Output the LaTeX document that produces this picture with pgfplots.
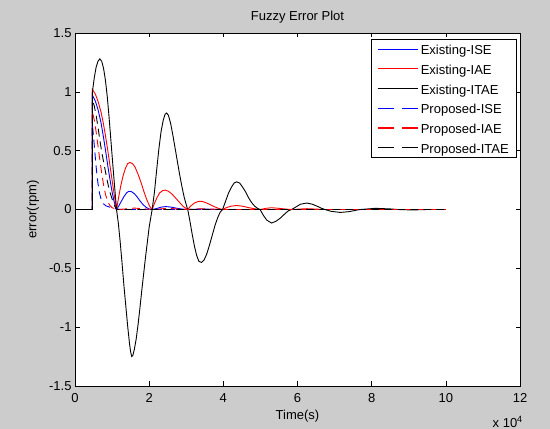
\documentclass[border=0pt]{standalone}
\usepackage{graphicx}
\usepackage{pgfplots}
\pgfplotsset{compat=1.18}
\usepackage{pgfplotstable}
\usepackage{fontspec}
\setmainfont{Liberation Sans}

\definecolor{figbg}{RGB}{204,204,204}
\definecolor{mblue}{RGB}{0,0,255}
\definecolor{mred}{RGB}{255,0,0}

\pgfplotsset{
  solidleg/.style={legend image code/.code={\draw[##1,#1,line width=1.2bp] (0bp,0bp) -- (40bp,0bp);}},
  dashleg/.style={legend image code/.code={\draw[##1,#1,solid,line width=1.2bp] (0bp,0bp) -- (16bp,0bp) (24bp,0bp) -- (40bp,0bp);}},
}

% time in units of 1e4 s, error in rpm
\pgfplotstableread{
t e
0 0
0.47 0
0.47 0.97
0.55 0.92
0.62 0.85
0.70 0.74
0.76 0.63
0.82 0.51
0.88 0.38
0.94 0.26
1.00 0.15
1.06 0.06
1.12 0
1.18 0.03
1.25 0.07
1.32 0.11
1.40 0.145
1.46 0.155
1.52 0.152
1.60 0.135
1.68 0.105
1.76 0.07
1.84 0.04
1.92 0.018
2.00 0.005
2.08 0
2.20 0.008
2.32 0.02
2.45 0.025
2.60 0.02
2.75 0.01
2.90 0.003
3.04 0
3.40 0.004
3.98 0
10 0
}\exISE

\pgfplotstableread{
t e
0 0
0.47 0
0.47 1.02
0.55 0.98
0.62 0.92
0.70 0.83
0.76 0.74
0.82 0.63
0.88 0.51
0.94 0.38
1.00 0.25
1.06 0.12
1.12 0
1.18 0.11
1.24 0.21
1.30 0.29
1.36 0.35
1.42 0.39
1.48 0.40
1.55 0.39
1.62 0.36
1.70 0.30
1.78 0.23
1.86 0.15
1.94 0.08
2.01 0.03
2.08 0
2.14 0.05
2.21 0.10
2.28 0.14
2.36 0.16
2.43 0.165
2.52 0.155
2.62 0.13
2.72 0.095
2.82 0.06
2.92 0.025
3.04 0
3.12 0.03
3.22 0.055
3.32 0.068
3.40 0.07
3.50 0.062
3.62 0.045
3.75 0.025
3.88 0.008
3.98 0
4.08 0.015
4.20 0.028
4.36 0.034
4.52 0.028
4.68 0.016
4.85 0.006
4.99 0
5.15 0.01
5.30 0.015
5.50 0.01
5.70 0.003
5.84 0
6.25 0.007
6.74 0
10 0
}\exIAE

\pgfplotstableread{
t e
0 0
0.47 0
0.47 1.00
0.52 1.12
0.57 1.21
0.62 1.26
0.67 1.28
0.72 1.26
0.77 1.20
0.82 1.10
0.87 0.96
0.92 0.78
0.97 0.58
1.02 0.38
1.07 0.19
1.12 0
1.17 -0.12
1.22 -0.28
1.27 -0.46
1.32 -0.65
1.37 -0.82
1.42 -0.99
1.47 -1.14
1.50 -1.21
1.53 -1.25
1.56 -1.24
1.60 -1.19
1.65 -1.10
1.70 -0.98
1.75 -0.84
1.80 -0.69
1.85 -0.55
1.90 -0.41
1.95 -0.28
2.00 -0.15
2.08 0
2.14 0.14
2.20 0.33
2.26 0.51
2.32 0.66
2.38 0.76
2.43 0.81
2.47 0.82
2.52 0.80
2.58 0.73
2.64 0.63
2.70 0.52
2.76 0.41
2.82 0.30
2.88 0.20
2.94 0.11
3.00 0.04
3.04 0
3.10 -0.10
3.16 -0.21
3.22 -0.31
3.28 -0.39
3.34 -0.44
3.41 -0.45
3.48 -0.43
3.55 -0.38
3.62 -0.31
3.70 -0.22
3.78 -0.13
3.86 -0.06
3.92 -0.02
3.98 0
4.06 0.07
4.14 0.14
4.22 0.19
4.29 0.225
4.36 0.235
4.44 0.225
4.52 0.19
4.60 0.15
4.68 0.10
4.76 0.06
4.84 0.03
4.92 0.01
4.99 0
5.08 -0.05
5.17 -0.09
5.30 -0.115
5.42 -0.10
5.55 -0.07
5.68 -0.03
5.76 -0.01
5.84 0
5.95 0.02
6.08 0.045
6.25 0.055
6.40 0.045
6.55 0.025
6.65 0.01
6.74 0
6.90 -0.015
7.15 -0.025
7.40 -0.018
7.60 -0.005
7.70 0
8.10 0.01
8.50 0.005
8.70 0
9.10 -0.004
9.50 0
10 0
}\exITAE

\pgfplotstableread{
t e
0 0
0.47 0
0.47 0.72
0.50 0.62
0.54 0.47
0.58 0.33
0.62 0.22
0.66 0.14
0.70 0.09
0.76 0.05
0.84 0.03
0.94 0.02
1.04 0.01
1.15 0.003
1.30 0
10 0
}\prISE

\pgfplotstableread{
t e
0 0
0.47 0
0.47 0.83
0.52 0.76
0.57 0.66
0.62 0.54
0.67 0.42
0.72 0.31
0.77 0.21
0.82 0.13
0.88 0.07
0.94 0.035
1.00 0.015
1.10 0.005
1.20 0
1.60 0.012
2.10 0
2.50 0.01
3.00 0
3.40 0.006
4.00 0
10 0
}\prIAE

\pgfplotstableread{
t e
0 0
0.47 0
0.47 0.93
0.52 0.88
0.57 0.80
0.62 0.70
0.67 0.59
0.72 0.49
0.78 0.39
0.84 0.29
0.90 0.20
0.96 0.13
1.02 0.07
1.07 0.03
1.12 0
10 0
}\prITAE

\begin{document}
\begin{tikzpicture}[font=\fontsize{13bp}{15.6bp}\selectfont]
\fill[figbg] (0,0) rectangle (550bp,429bp);
\begin{axis}[
  name=ax,
  at={(75bp,43bp)}, anchor=south west,
  scale only axis, width=445bp, height=353bp,
  xmin=0, xmax=12, ymin=-1.5, ymax=1.5,
  xtick={0,2,...,12}, ytick={-1.5,-1,...,1.5},
  scaled ticks=false,
  tick align=inside, major tick length=4.5bp,
  every tick/.style={black, line width=0.6bp},
  axis line style={black, line width=0.8bp},
  axis background/.style={fill=white},
  /pgf/number format/assume math mode=true,
  xticklabel style={anchor=base, yshift=-16.7bp},
  yticklabel style={anchor=east},
  title={Fuzzy Error Plot},
  every axis title shift=0pt,
  title style={at={(axis description cs:0.5,1)}, anchor=base, yshift=12.2bp},
  xlabel={Time(s)},
  every axis x label/.style={at={(axis description cs:0.5,0)}, anchor=base, yshift=-33.5bp},
  ylabel={error(rpm)},
  every axis y label/.style={at={(axis description cs:-0.0944,0.5)}, rotate=90, anchor=center},
  legend cell align=left,
  legend style={at={(axis description cs:1,1)}, anchor=north east, xshift=-3bp, yshift=-6bp,
    draw=black, line width=0.6bp, fill=white, inner xsep=5.5bp, inner ysep=0bp,
    nodes={inner xsep=2.5bp, inner ysep=3bp, text height=12.5bp, text depth=1.2bp}, row sep=0pt},
  every axis plot/.append style={line width=0.9bp},
]
\addplot[mblue, solidleg=mblue] table[x=t,y=e] {\exISE};
\addlegendentry{Existing-ISE}
\addplot[mred, solidleg=mred] table[x=t,y=e] {\exIAE};
\addlegendentry{Existing-IAE}
\addplot[black, solidleg=black] table[x=t,y=e] {\exITAE};
\addlegendentry{Existing-ITAE}
\addplot[mblue, dash pattern=on 8bp off 5bp, dashleg=mblue] table[x=t,y=e] {\prISE};
\addlegendentry{Proposed-ISE}
\addplot[mred, dash pattern=on 8bp off 5bp, dashleg=mred] table[x=t,y=e] {\prIAE};
\addlegendentry{Proposed-IAE}
\addplot[black, dash pattern=on 8bp off 5bp, dashleg=black] table[x=t,y=e] {\prITAE};
\addlegendentry{Proposed-ITAE}
\end{axis}
\node[anchor=base east, inner sep=0pt] at ([xshift=3bp,yshift=-41bp]ax.south east) {x 10\textsuperscript{4}};
\pgfresetboundingbox
\path (0,0) rectangle (550bp,429bp);
\end{tikzpicture}
\end{document}
